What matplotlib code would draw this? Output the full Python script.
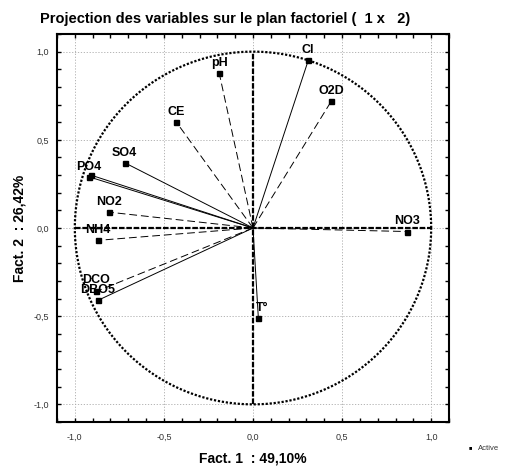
import numpy as np
import matplotlib
matplotlib.use("Agg")
import matplotlib.pyplot as plt
from matplotlib.ticker import MultipleLocator, FixedLocator

plt.rcParams['font.family'] = ['Liberation Sans', 'DejaVu Sans']

variables = ["pH", "Cl", "O2D", "CE", "SO4", "PT", "PO4", "NO2", "NH4", "DCO", "DBO5", "NO3", "T°"]
fact1 = [-0.19, 0.31, 0.44, -0.43, -0.72, -0.91, -0.92, -0.81, -0.87, -0.88, -0.87, 0.865, 0.03]
fact2 = [0.88, 0.95, 0.72, 0.60, 0.37, 0.30, 0.29, 0.09, -0.07, -0.36, -0.41, -0.02, -0.51]
line_styles = ["dashed", "solid", "dashed", "dashed", "solid", "solid", "solid",
               "dashed", "dashed", "dashed", "solid", "dashed", "solid"]
xticks = [-1.0, -0.5, 0.0, 0.5, 1.0]
yticks = [-1.0, -0.5, 0.0, 0.5, 1.0]
tick_labels = ["-1,0", "-0,5", "0,0", "0,5", "1,0"]

fig = plt.figure(figsize=(5.06, 4.66), dpi=100)
ax = fig.add_axes([57/506, 44/466, 392/506, 388/466])
ax.set_xlim(-1.1, 1.1)
ax.set_ylim(-1.1, 1.1)

# grid
for v in xticks:
    ax.axvline(v, color='#aaaaaa', lw=0.6, ls=(0, (1.5, 2)), zorder=0)
for v in yticks:
    ax.axhline(v, color='#aaaaaa', lw=0.6, ls=(0, (1.5, 2)), zorder=0)

# unit circle
t = np.linspace(0, 2*np.pi, 400)
ax.plot(np.cos(t), np.sin(t), color='black', lw=1.6, ls=(0, (1.0, 0.8)), zorder=2)

# axes through origin
ax.plot([-1, 1], [0, 0], color='black', lw=1.6, ls=(0, (2.5, 0.8)), zorder=2)
ax.plot([0, 0], [-1, 1], color='black', lw=1.6, ls=(0, (2.5, 0.8)), zorder=2)

# vectors
for name, x, y, ls in zip(variables, fact1, fact2, line_styles):
    style = '-' if ls == 'solid' else (0, (8, 4))
    ax.plot([0, x], [0, y], color='black', lw=0.7, ls=style, zorder=3)
    ax.plot([x], [y], marker='s', ms=3.6, color='black', ls='none', zorder=4)
    if name == "PT":
        continue
    dx = 3 if name == "T°" else 0
    dy = 4 if name == "DCO" else 3
    ax.annotate(name, (x, y), xytext=(dx, dy), textcoords='offset points',
                ha='center', va='bottom', fontsize=9, fontweight='bold', zorder=5)

ax.xaxis.set_major_locator(FixedLocator(xticks))
ax.yaxis.set_major_locator(FixedLocator(yticks))
ax.set_xticklabels(tick_labels)
ax.set_yticklabels(tick_labels)
ax.xaxis.set_minor_locator(MultipleLocator(0.1))
ax.yaxis.set_minor_locator(MultipleLocator(0.1))
ax.tick_params(which='both', direction='in', top=True, right=True, length=3, width=1.0)
ax.tick_params(which='major', labelsize=6.5, labelcolor='#333333')
ax.tick_params(axis='x', which='major', pad=8)
ax.tick_params(axis='y', which='major', pad=6)
for s in ax.spines.values():
    s.set_linewidth(1.5)

ax.set_xlabel("Fact. 1  : 49,10%", fontsize=10, fontweight='bold', labelpad=7)
ax.set_ylabel("Fact. 2  : 26,42%", fontsize=10, fontweight='bold', labelpad=5)

fig.text(40/506, 1 - 19/466, "Projection des variables sur le plan factoriel (  1 x   2)",
         fontsize=10.5, fontweight='bold', ha='left', va='center')

# legend
fig.text(470/506, 1 - 448/466, "■", fontsize=4, ha='center', va='center')
fig.text(478/506, 1 - 449/466, "Active", fontsize=5.5, ha='left', va='center', color='#333333')

fig.savefig("out.png", dpi=100)
